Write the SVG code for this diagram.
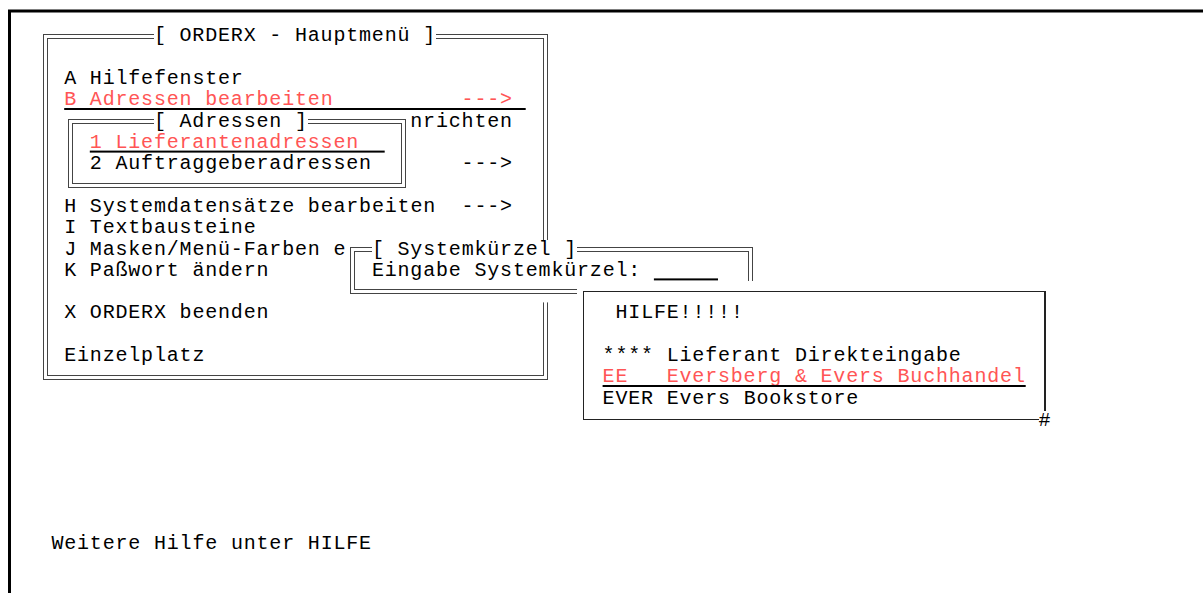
<svg xmlns="http://www.w3.org/2000/svg" width="1203" height="593" viewBox="0 0 1203 593">
<style>
text{font-family:"Courier New","Liberation Mono",monospace;font-size:20px;letter-spacing:0.82px;fill:#000;white-space:pre}
.r{fill:#f55}
.dl{fill:none;stroke:#444;stroke-width:1;shape-rendering:crispEdges}
.sl{fill:none;stroke:#222;stroke-width:1.2;shape-rendering:crispEdges}
.bg{fill:#fff}
.ul{fill:#000}
</style>
<rect width="1203" height="593" fill="#fff"/>
<g id="screen-frame"><path d="M9.5 593 V11 H1203" fill="none" stroke="#000" stroke-width="3"/></g>

<g id="main-menu">
<path class="dl" d="M153.9 34 H43 V379 H547 V34 H436"/>
<path class="dl" d="M153.9 38 H47 V375 H543 V38 H436"/>
<text x="153.9" y="41.4">[ ORDERX - Hauptmenü ]</text>
<text x="64.2" y="84">A Hilfefenster</text>
<text class="r" x="64.2" y="105.3">B Adressen bearbeiten</text>
<text class="r" x="461.6" y="105.3">---&gt;</text>
<rect class="ul" x="64.2" y="108" width="461.5" height="2"/>
<text x="410.3" y="126.6">nrichten</text>
<text x="461.6" y="169.3">---&gt;</text>
<text x="64.2" y="211.9">H Systemdatensätze bearbeiten</text>
<text x="461.6" y="211.9">---&gt;</text>
<text x="64.2" y="233.2">I Textbausteine</text>
<text x="64.2" y="254.5">J Masken/Menü-Farben e</text>
<text x="64.2" y="275.8">K Paßwort ändern</text>
<text x="64.2" y="318.4">X ORDERX beenden</text>
<text x="64.2" y="361.1">Einzelplatz</text>
</g>

<g id="adressen-menu">
<rect class="bg" x="64.2" y="110.6" width="346.1" height="85.2"/>
<path class="dl" d="M153.9 119.2 H68.6 V187.2 H405.9 V119.2 H307.8"/>
<path class="dl" d="M153.9 123.2 H72.6 V183.2 H401.9 V123.2 H307.8"/>
<text x="153.9" y="126.6">[ Adressen ]</text>
<text class="r" x="89.8" y="147.9">1 Lieferantenadressen</text>
<rect class="ul" x="89.8" y="150.6" width="294.9" height="2"/>
<text x="89.8" y="169.3">2 Auftraggeberadressen</text>
</g>

<g id="systemkuerzel-dialog">
<rect class="bg" x="346.2" y="240" width="410.3" height="62.4"/>
<path class="dl" d="M371.9 247.1 H350.6 V293.7 H752.1 V247.1 H577"/>
<path class="dl" d="M371.9 251.1 H354.6 V289.7 H748.1 V251.1 H577"/>
<text x="371.9" y="254.5">[ Systemkürzel ]</text>
<text x="371.9" y="275.8">Eingabe Systemkürzel:</text>
<rect class="ul" x="653.9" y="278.4" width="64.1" height="2"/>
</g>

<g id="hilfe-window">
<rect class="bg" x="577" y="281" width="474.3" height="149.3"/>
<path class="sl" d="M1038.5 419.6 H583.4 V291.7 H1044.9 V411"/>
<text x="1038.5" y="425.5">#</text>
<text x="615.5" y="318.4">HILFE!!!!!</text>
<text x="602.6" y="361.1">**** Lieferant Direkteingabe</text>
<text class="r" x="602.6" y="382.4">EE</text>
<text class="r" x="666.7" y="382.4">Eversberg &amp; Evers Buchhandel</text>
<rect class="ul" x="602.6" y="385" width="423.1" height="2"/>
<text x="602.6" y="403.7">EVER Evers Bookstore</text>
</g>

<g id="status-line">
<text x="51.4" y="549">Weitere Hilfe unter HILFE</text>
</g>
</svg>
